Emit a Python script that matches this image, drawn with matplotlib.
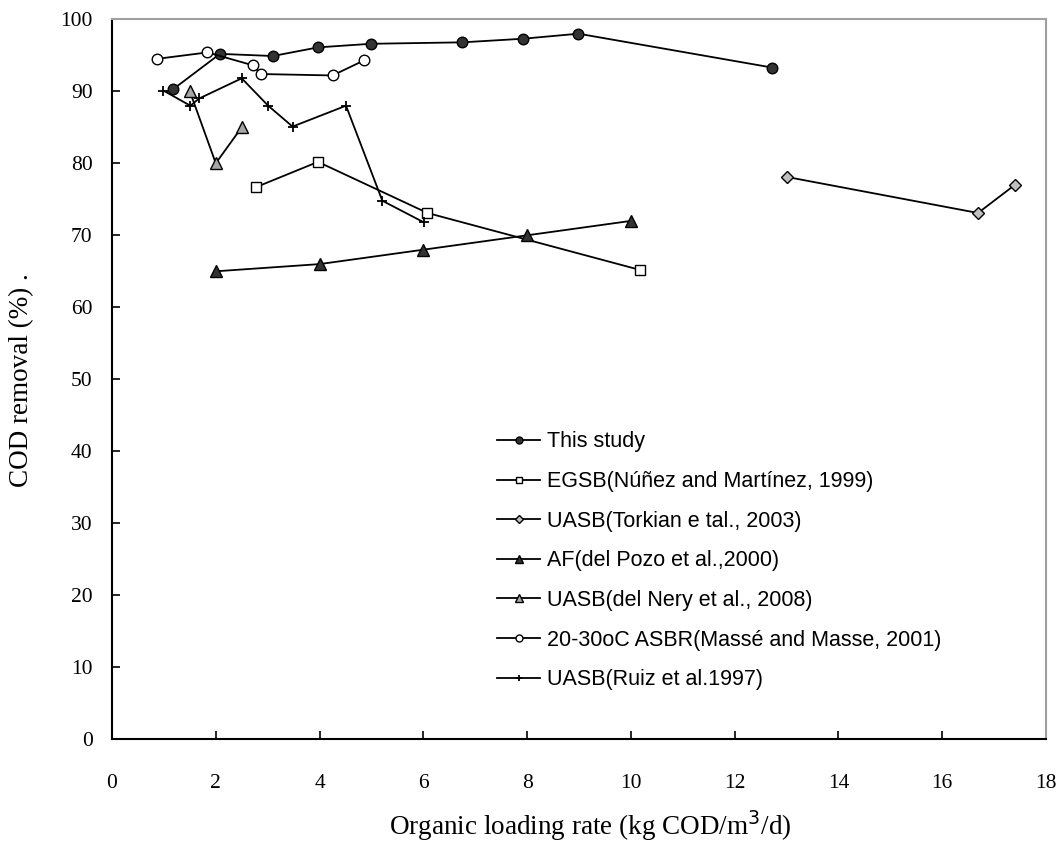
import matplotlib
matplotlib.use("Agg")
import matplotlib.pyplot as plt

# ---- data ----
this_x = [1.18, 2.08, 3.10, 3.97, 4.99, 6.75, 7.92, 8.99, 12.72]
this_y = [90.3, 95.2, 94.9, 96.1, 96.6, 96.8, 97.3, 98.0, 93.3]

egsb_x = [2.78, 3.97, 6.08, 10.17]
egsb_y = [76.7, 80.2, 73.1, 65.2]

tork_x = [13.01, 16.69, 17.40]
tork_y = [78.1, 73.1, 77.0]

af_x = [2.0, 4.0, 6.0, 8.0, 10.0]
af_y = [65.0, 66.0, 68.0, 70.0, 72.0]

nery_x = [1.5, 2.0, 2.5]
nery_y = [90.0, 80.0, 85.0]

asbr_x = [0.86, 1.84, 2.72, 2.87, 4.25, 4.86]
asbr_y = [94.5, 95.4, 93.6, 92.4, 92.2, 94.3]

ruiz_x = [0.99, 1.51, 1.68, 2.50, 3.01, 3.48, 4.51, 5.21, 6.01]
ruiz_y = [90.1, 88.0, 89.0, 91.8, 88.0, 85.1, 88.0, 74.8, 71.8]

labels = [
    "This study",
    "EGSB(Núñez and Martínez, 1999)",
    "UASB(Torkian e tal., 2003)",
    "AF(del Pozo et al.,2000)",
    "UASB(del Nery et al., 2008)",
    "20-30oC ASBR(Massé and Masse, 2001)",
    "UASB(Ruiz et al.1997)",
]
xticks = list(range(0, 19, 2))
yticks = list(range(0, 101, 10))

# ---- figure ----
W, H = 1063, 847
fig = plt.figure(figsize=(W / 100, H / 100), dpi=100)
ax = fig.add_axes([112 / W, 1 - 739.3 / H, (1046 - 112) / W, (739.3 - 19.3) / H])

lw = 1.3
common = dict(color="black", lw=lw, markeredgecolor="black", markeredgewidth=1.0)
ax.plot(this_x, this_y, marker="o", ms=7.6, markerfacecolor="#333333", label=labels[0], **common)
ax.plot(egsb_x, egsb_y, marker="s", ms=6.6, markerfacecolor="white", label=labels[1], **common)
ax.plot(tork_x, tork_y, marker="D", ms=6.0, markerfacecolor="#c0c0c0", label=labels[2], **common)
ax.plot(af_x, af_y, marker="^", ms=8.6, markerfacecolor="#333333", label=labels[3], **common)
ax.plot(nery_x, nery_y, marker="^", ms=8.6, markerfacecolor="#a6a6a6", label=labels[4], **common)
ax.plot(asbr_x, asbr_y, marker="o", ms=7.6, markerfacecolor="white", label=labels[5], **common)
ax.plot(ruiz_x, ruiz_y, marker="+", ms=7.5, markeredgewidth=1.3, color="black", lw=lw,
        label=labels[6])

ax.set_xlim(0, 18)
ax.set_ylim(0, 100)
ax.set_xticks(xticks)
ax.set_yticks(yticks)

serif = ["Liberation Serif", "DejaVu Serif"]
ax.set_xticklabels([str(t) for t in xticks], fontsize=15.5, family=serif)
ax.set_yticklabels([str(t) for t in yticks], fontsize=15.5, family=serif)
ax.tick_params(axis="x", direction="in", length=5.5, width=1.2, pad=25)
ax.tick_params(axis="y", direction="in", length=5.5, width=1.2, pad=14)

for s in ["left", "bottom"]:
    ax.spines[s].set_color("black")
    ax.spines[s].set_linewidth(1.5)
for s in ["top", "right"]:
    ax.spines[s].set_color("#a0a0a0")
    ax.spines[s].set_linewidth(1.5)

fig.text(590 / W, 1 - 826 / H, "Organic loading rate (kg COD/m$^3$/d)",
         ha="center", va="center", fontsize=19.5, family=serif)
fig.text(22 / W, 1 - 380 / H, "COD removal (%) .", rotation=90,
         ha="center", va="center", fontsize=19.5, family=serif)

leg = ax.legend(loc="upper left", bbox_to_anchor=((497 - 112) / (1046 - 112), (739.3 - 431.5) / 720),
                frameon=False, prop={"family": ["Liberation Sans", "DejaVu Sans"], "size": 15.5},
                markerscale=0.66, handlelength=2.0, handletextpad=0.31, labelspacing=0.865,
                borderaxespad=0, borderpad=0)

fig.savefig("out.png", dpi=100)
